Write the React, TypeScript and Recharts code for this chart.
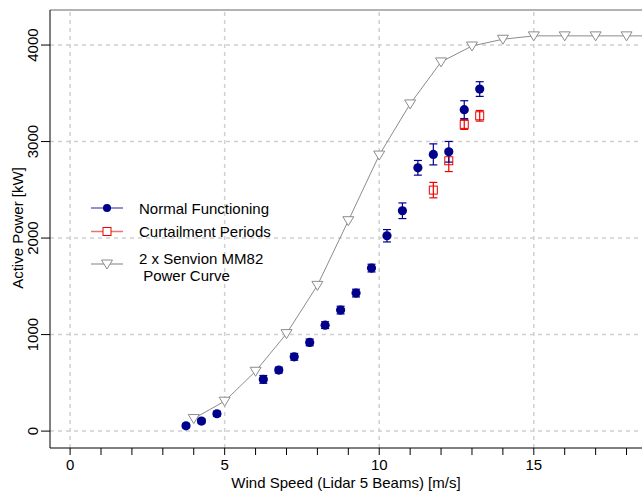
import { ComposedChart, Scatter, Line, XAxis, YAxis, ErrorBar, ReferenceLine, Label } from "recharts";

const FONT = "'Liberation Sans', Arial, sans-serif";

// power curve (2 x Senvion MM82)
const pcWind = [4, 5, 6, 7, 8, 9, 10, 11, 12, 13, 14, 15, 16, 17, 18, 19];
const pcKw = [130, 310, 620, 1010, 1510, 2180, 2860, 3390, 3825, 3990, 4060, 4095, 4095, 4095, 4095, 4095];

// normal functioning bins
const nfWind = [3.75, 4.25, 4.75, 6.25, 6.75, 7.25, 7.75, 8.25, 8.75, 9.25, 9.75, 10.25, 10.75, 11.25, 11.75, 12.25, 12.75, 13.25];
const nfKw = [55, 104, 180, 536, 632, 770, 919, 1098, 1254, 1430, 1689, 2024, 2283, 2728, 2867, 2894, 3330, 3544];
const nfErr = [20, 22, 25, 40, 30, 35, 35, 35, 40, 40, 40, 64, 81, 76, 109, 107, 93, 76];

// curtailment bins
const ctWind = [11.75, 12.25, 12.75, 13.25];
const ctKw = [2497, 2801, 3178, 3267];
const ctErr = [80, 112, 52, 55];

const xTicks = [0, 1, 2, 3, 4, 5, 6, 7, 8, 9, 10, 11, 12, 13, 14, 15, 16, 17, 18];
const xGrid = [0, 5, 10, 15];
const yTicks = [0, 1000, 2000, 3000, 4000];

const X_MIN = -0.65;
const X_MAX = 18.5;
const Y_MIN = -175;
const Y_MAX = 4363;

const BLUE = "#00008B";
const RED = "#EE0000";
const GRAY = "#8c8c8c";

const pcData = pcWind.map((x, i) => ({ x, y: pcKw[i] }));
const nfData = nfWind.map((x, i) => ({ x, y: nfKw[i], err: nfErr[i] }));
const ctData = ctWind.map((x, i) => ({ x, y: ctKw[i], err: ctErr[i] }));

const BlueDot = (p: any) => <circle cx={p.cx} cy={p.cy} r={4.6} fill={BLUE} />;

const RedSquare = (p: any) => (
    <rect x={p.cx - 4} y={p.cy - 4} width={8} height={8} fill="none" stroke={RED} strokeWidth={1} />
);

const GrayTri = (p: any) => {
    if (p.cx == null || p.cy == null) return null;
    const { cx, cy } = p;
    return (
        <path
            key={`t-${p.index}`}
            d={`M${cx - 5.5},${cy - 4}L${cx + 5.5},${cy - 4}L${cx},${cy + 5}Z`}
            fill="#fff"
            stroke={GRAY}
            strokeWidth={1}
        />
    );
};

const XTick = ({ x, payload }: any) => {
    if (payload.value % 5 !== 0) return null;
    return (
        <text x={x} y={470} textAnchor="middle" fontSize={15} fill="#000" fontFamily={FONT}>
            {payload.value}
        </text>
    );
};

const YTick = ({ y, payload }: any) => (
    <text
        x={33}
        y={y}
        transform={`rotate(-90 33 ${y})`}
        textAnchor="middle"
        dominantBaseline="central"
        fontSize={15}
        fill="#000"
        fontFamily={FONT}
    >
        {payload.value}
    </text>
);

function LegendOverlay() {
    return (
        <svg width={240} height={95} style={{ position: "absolute", left: 88, top: 195 }}>
            <g fontFamily={FONT} fontSize={15} fill="#000">
                <line x1={3} x2={35} y1={13} y2={13} stroke="#6b6bc8" strokeWidth={1.5} />
                <circle cx={19} cy={13} r={4} fill={BLUE} />
                <text x={51} y={13} dominantBaseline="central">Normal Functioning</text>

                <line x1={3} x2={35} y1={36.5} y2={36.5} stroke="#ee7070" strokeWidth={1.5} />
                <rect x={15} y={32.5} width={8} height={8} fill="#fff" stroke={RED} />
                <text x={51} y={36.5} dominantBaseline="central">Curtailment Periods</text>

                <line x1={3} x2={35} y1={69} y2={69} stroke="#aaa" strokeWidth={1.5} />
                <path d="M13.5,65L24.5,65L19,74Z" fill="#fff" stroke={GRAY} />
                <text x={51} y={63} dominantBaseline="central">2 x Senvion MM82</text>
                <text x={51} y={80.5} dominantBaseline="central" style={{ whiteSpace: "pre" }}>{" Power Curve"}</text>
            </g>
        </svg>
    );
}

export default function App() {
    return (
        <div style={{ position: "absolute", left: 0, top: 0, width: 642, height: 491, background: "#fff" }}>
            <ComposedChart width={642} height={491} margin={{ top: 10, right: 0, bottom: 0, left: 0 }}>
                <XAxis
                    dataKey="x"
                    type="number"
                    domain={[X_MIN, X_MAX]}
                    allowDataOverflow
                    ticks={xTicks}
                    interval={0}
                    height={43}
                    tickSize={7}
                    tick={<XTick />}
                    axisLine={{ stroke: "#000", strokeWidth: 1 }}
                    tickLine={{ stroke: "#000" }}
                >
                    <Label
                        content={() => (
                            <text x={346} y={488} textAnchor="middle" fontSize={15} fontFamily={FONT} fill="#000">
                                Wind Speed (Lidar 5 Beams) [m/s]
                            </text>
                        )}
                    />
                </XAxis>
                <YAxis
                    type="number"
                    domain={[Y_MIN, Y_MAX]}
                    allowDataOverflow
                    ticks={yTicks}
                    width={50}
                    tickSize={9}
                    tick={<YTick />}
                    axisLine={{ stroke: "#000", strokeWidth: 1 }}
                    tickLine={{ stroke: "#000" }}
                >
                    <Label
                        content={() => (
                            <text
                                x={17}
                                y={228}
                                transform="rotate(-90 17 228)"
                                textAnchor="middle"
                                dominantBaseline="central"
                                fontSize={15}
                                fontFamily={FONT}
                                fill="#000"
                            >
                                Active Power [kW]
                            </text>
                        )}
                    />
                </YAxis>

                {xGrid.map((v) => (
                    <ReferenceLine key={`gx${v}`} x={v} stroke="#d0d0d0" strokeWidth={1.5} strokeDasharray="4 4" />
                ))}
                {yTicks.map((v) => (
                    <ReferenceLine key={`gy${v}`} y={v} stroke="#d0d0d0" strokeWidth={1.5} strokeDasharray="4 4" />
                ))}
                <ReferenceLine y={Y_MAX} stroke="#666" strokeWidth={1} />

                <Line
                    data={pcData}
                    dataKey="y"
                    stroke={GRAY}
                    strokeWidth={1}
                    dot={GrayTri}
                    activeDot={false}
                    isAnimationActive={false}
                />
                <Scatter data={ctData} dataKey="y" shape={RedSquare} isAnimationActive={false}>
                    <ErrorBar dataKey="err" direction="y" width={4} stroke={RED} strokeWidth={1.2} />
                </Scatter>
                <Scatter data={nfData} dataKey="y" shape={BlueDot} isAnimationActive={false}>
                    <ErrorBar dataKey="err" direction="y" width={4} stroke={BLUE} strokeWidth={1.2} />
                </Scatter>
            </ComposedChart>
            <LegendOverlay />
        </div>
    );
}
